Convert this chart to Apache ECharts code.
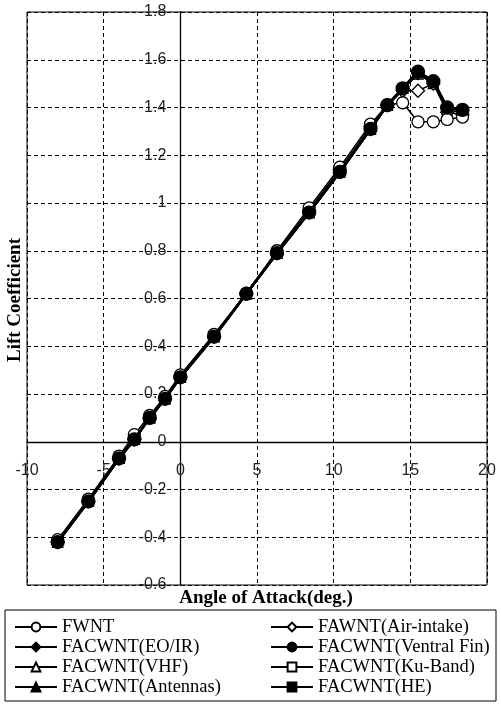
<!DOCTYPE html>
<html>
<head>
<meta charset="utf-8">
<script src="https://cdn.jsdelivr.net/npm/echarts@6/dist/echarts.min.js"></script>
<style>
html,body{margin:0;padding:0;background:#fff;}
#chart{width:501px;height:706px;}
</style>
</head>
<body>
<div id="chart"></div>
<script>
// angle of attack (deg.)
var aoa = [-8, -6, -4, -3, -2, -1, 0, 2.2, 4.3, 6.3, 8.4, 10.4, 12.4, 13.5, 14.5, 15.5, 16.5, 17.4, 18.4];

// lift coefficient per configuration
var fwnt       = [-0.41, -0.24, -0.06, 0.03, 0.11, 0.19, 0.28, 0.45, 0.62, 0.80, 0.98, 1.15, 1.33, 1.41, 1.42, 1.34, 1.34, 1.35, 1.36];
var airIntake  = [-0.42, -0.25, -0.07, 0.01, 0.10, 0.18, 0.27, 0.44, 0.62, 0.79, 0.97, 1.14, 1.32, 1.41, 1.47, 1.47, 1.50, 1.38, 1.37];
var eoir       = [-0.42, -0.25, -0.07, 0.01, 0.10, 0.18, 0.27, 0.44, 0.62, 0.79, 0.96, 1.13, 1.31, 1.41, 1.48, 1.54, 1.51, 1.40, 1.39];
var ventralFin = [-0.42, -0.25, -0.07, 0.01, 0.10, 0.18, 0.27, 0.44, 0.62, 0.79, 0.96, 1.13, 1.31, 1.41, 1.48, 1.55, 1.51, 1.40, 1.39];
var vhf        = [-0.42, -0.25, -0.07, 0.01, 0.10, 0.18, 0.27, 0.44, 0.62, 0.79, 0.96, 1.13, 1.31, 1.41, 1.48, 1.54, 1.50, 1.39, 1.38];
var kuBand     = [-0.42, -0.25, -0.07, 0.01, 0.10, 0.18, 0.27, 0.44, 0.62, 0.79, 0.96, 1.13, 1.31, 1.41, 1.48, 1.54, 1.50, 1.39, 1.38];
var antennas   = [-0.42, -0.25, -0.07, 0.01, 0.10, 0.18, 0.27, 0.44, 0.62, 0.79, 0.96, 1.13, 1.31, 1.41, 1.48, 1.55, 1.51, 1.40, 1.39];
var he         = [-0.42, -0.25, -0.07, 0.01, 0.10, 0.18, 0.27, 0.44, 0.62, 0.79, 0.96, 1.13, 1.31, 1.41, 1.48, 1.55, 1.51, 1.40, 1.39];

var names = ['FWNT', 'FAWNT(Air-intake)', 'FACWNT(EO/IR)', 'FACWNT(Ventral Fin)',
             'FACWNT(VHF)', 'FACWNT(Ku-Band)', 'FACWNT(Antennas)', 'FACWNT(HE)'];

var xMin = -10, xMax = 20, yMin = -0.6, yMax = 1.8;

function pairs(ys){
    return aoa.map(function(x, i){ return [x, ys[i]]; });
}

function mk(name, ys, symbol, size, filled, lw, z){
    return {
        name: name,
        type: 'line',
        data: pairs(ys),
        symbol: symbol,
        symbolSize: size,
        z: z,
        lineStyle: {color: '#000', width: lw},
        itemStyle: {
            color: filled ? '#000' : '#fff',
            borderColor: '#000',
            borderWidth: 1.3
        },
        emphasis: {disabled: true}
    };
}

// grid box in pixels
var gLeft = 27, gRight = 14, gTop = 12, gBottom = 121;
var W = 501, H = 706;
var plotW = W - gLeft - gRight, plotH = H - gTop - gBottom;
// move the axes onto the zero lines
var yAxisOffset = -plotW * (0 - xMin) / (xMax - xMin);
var xAxisOffset = -plotH * (0 - yMin) / (yMax - yMin);

// legend rows, two columns
var legendCols = [14, 270];
var legendRows = [617, 637, 657, 677];
var legends = names.map(function(n, i){
    return {
        data: [n],
        left: legendCols[i % 2],
        top: legendRows[Math.floor(i / 2)],
        padding: 0,
        itemWidth: 42, itemHeight: 11,
        textStyle: {fontFamily: 'Liberation Serif', fontSize: 18.5, color: '#000', lineHeight: 20}
    };
});

var chart = echarts.init(document.getElementById('chart'));

var option = {
    backgroundColor: '#fff',
    animation: false,
    grid: {left: gLeft, right: gRight, top: gTop, bottom: gBottom, show: true, borderColor: '#000', borderWidth: 1},
    xAxis: {
        type: 'value', min: xMin, max: xMax, interval: 5,
        offset: xAxisOffset,
        axisLine: {onZero: false, lineStyle: {color: '#000', width: 1.3}},
        axisTick: {show: false},
        axisLabel: {color: '#222', fontFamily: 'Liberation Sans', fontSize: 16, margin: 21},
        splitLine: {show: true, lineStyle: {color: '#000', type: [4, 3], width: 1}}
    },
    yAxis: {
        type: 'value', min: yMin, max: yMax, interval: 0.2,
        offset: yAxisOffset,
        axisLine: {onZero: false, lineStyle: {color: '#000', width: 1.3}},
        axisTick: {show: false},
        axisLabel: {color: '#222', fontFamily: 'Liberation Sans', fontSize: 16, margin: 14,
            formatter: function(v){ return String(Math.round(v * 10) / 10); }},
        splitLine: {show: true, lineStyle: {color: '#000', type: [4, 3], width: 1}}
    },
    legend: legends,
    graphic: [
        {type: 'rect', shape: {x: 5, y: 610, width: 491, height: 91},
         style: {fill: 'none', stroke: '#000', lineWidth: 1}},
        {type: 'text', x: 266, y: 598,
         style: {text: 'Angle of Attack(deg.)', font: 'bold 19px "Liberation Serif"', fill: '#000',
                 textAlign: 'center', textVerticalAlign: 'middle'}},
        {type: 'text', x: 15, y: 300, rotation: Math.PI / 2,
         style: {text: 'Lift Coefficient', font: 'bold 19px "Liberation Serif"', fill: '#000',
                 textAlign: 'center', textVerticalAlign: 'middle'}}
    ],
    series: [
        mk(names[5], kuBand, 'rect', 9, false, 1, 2),
        mk(names[4], vhf, 'triangle', 10, false, 1.5, 2),
        mk(names[1], airIntake, 'diamond', 13, false, 1.5, 3),
        mk(names[0], fwnt, 'circle', 12, false, 1.5, 3),
        mk(names[2], eoir, 'diamond', 11, true, 2.5, 4),
        mk(names[6], antennas, 'triangle', 10, true, 2.5, 4),
        mk(names[7], he, 'rect', 8, true, 2.5, 4),
        mk(names[3], ventralFin, 'circle', 13, true, 2.5, 5)
    ]
};

chart.setOption(option);
</script>
</body>
</html>
